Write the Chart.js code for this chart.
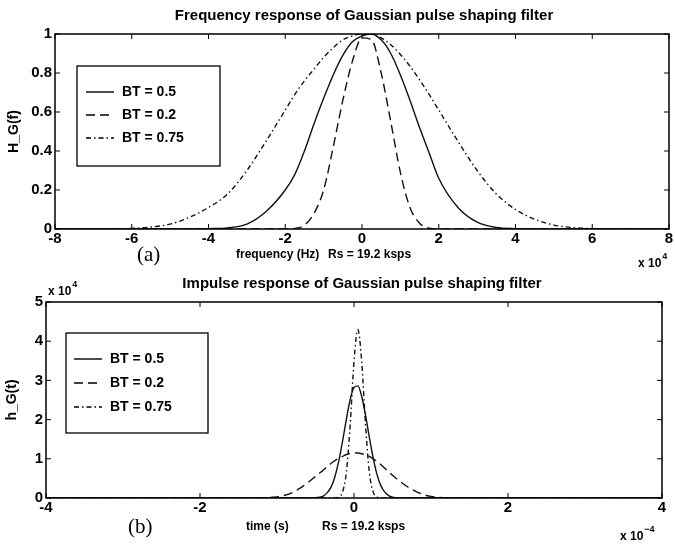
<!DOCTYPE html>
<html>
<head>
<meta charset="utf-8">
<script src="https://cdn.jsdelivr.net/npm/chart.js@4.4.1/dist/chart.umd.min.js"></script>
<style>
  html, body { margin: 0; padding: 0; background: #fff; }
  .box { position: absolute; left: 0; width: 675px; }
  #top { top: 0; height: 270px; }
  #bot { top: 270px; height: 277px; }
</style>
</head>
<body>
<div class="box" id="top"><canvas id="freq-chart"></canvas></div>
<div class="box" id="bot"><canvas id="imp-chart"></canvas></div>
<script>
// frequency response, x in units of 1e4 Hz
const freqX = [-8, -7, -6, -5.5, -5, -4.5, -4, -3.5, -3, -2.5, -2, -1.75, -1.5, -1.25, -1, -0.75, -0.5, -0.25, 0,
  0.25, 0.5, 0.75, 1, 1.25, 1.5, 1.75, 2, 2.5, 3, 3.5, 4, 4.5, 5, 5.5, 6, 7, 8];
const freqBT05 = [0, 0, 0, 0, 0, 0, 0.002, 0.006, 0.025, 0.09, 0.2, 0.28, 0.4, 0.54, 0.67, 0.79, 0.89, 0.96, 0.99,
  1.0, 0.97, 0.9, 0.79, 0.66, 0.52, 0.39, 0.26, 0.11, 0.035, 0.008, 0.002, 0, 0, 0, 0, 0, 0];
const freqBT02 = [0, 0, 0, 0, 0, 0, 0, 0, 0, 0, 0, 0.003, 0.02, 0.08, 0.2, 0.42, 0.66, 0.86, 0.98,
  0.97, 0.8, 0.55, 0.29, 0.11, 0.03, 0.004, 0, 0, 0, 0, 0, 0, 0, 0, 0, 0, 0];
const freqBT075 = [0, 0, 0.003, 0.01, 0.025, 0.06, 0.11, 0.18, 0.3, 0.45, 0.61, 0.69, 0.76, 0.82, 0.88, 0.93, 0.97, 0.99, 1.0,
  0.998, 0.98, 0.945, 0.895, 0.835, 0.765, 0.69, 0.61, 0.45, 0.3, 0.18, 0.1, 0.05, 0.02, 0.007, 0.002, 0, 0];

// impulse response, x in units of 1e-4 s, y in units of 1e4
const impX = [-4, -3, -2, -1.5, -1.2, -1, -0.9, -0.8, -0.7, -0.6, -0.5, -0.45, -0.4, -0.35, -0.3, -0.25, -0.2, -0.15, -0.1, -0.05, 0,
  0.05, 0.1, 0.15, 0.2, 0.25, 0.3, 0.35, 0.4, 0.45, 0.5, 0.6, 0.7, 0.8, 0.9, 1, 1.2, 1.5, 2, 3, 4];
const impBT05 = [0, 0, 0, 0, 0, 0, 0, 0, 0, 0.001, 0.007, 0.02, 0.05, 0.13, 0.27, 0.53, 0.92, 1.43, 2.0, 2.51, 2.82,
  2.86, 2.59, 2.11, 1.54, 1.01, 0.59, 0.31, 0.15, 0.06, 0.02, 0.002, 0, 0, 0, 0, 0, 0, 0, 0, 0];
const impBT02 = [0, 0, 0, 0, 0.005, 0.03, 0.07, 0.14, 0.25, 0.39, 0.55, 0.63, 0.71, 0.8, 0.88, 0.95, 1.01, 1.06, 1.11, 1.135, 1.15,
  1.148, 1.13, 1.1, 1.06, 1.0, 0.93, 0.85, 0.76, 0.67, 0.58, 0.42, 0.28, 0.17, 0.09, 0.04, 0.005, 0, 0, 0, 0];
const impBT075 = [0, 0, 0, 0, 0, 0, 0, 0, 0, 0, 0, 0, 0, 0, 0, 0.002, 0.02, 0.15, 0.64, 1.85, 3.48,
  4.3, 3.48, 1.85, 0.64, 0.15, 0.02, 0.002, 0, 0, 0, 0, 0, 0, 0, 0, 0, 0, 0, 0, 0];

const legendLabels = ["BT = 0.5", "BT = 0.2", "BT = 0.75"];
const dashes = [[], [9, 5], [5, 3, 1.5, 3]];

const SANS = "'Liberation Sans', Arial, sans-serif";

function pts(xs, ys) {
  return xs.map((x, i) => ({ x: x, y: ys[i] }));
}

function series(xs, ys, i) {
  return {
    label: legendLabels[i],
    data: pts(xs, ys),
    borderColor: "#111",
    borderWidth: 1.4,
    borderDash: dashes[i],
    pointRadius: 0,
    fill: false,
    cubicInterpolationMode: "monotone",
  };
}

// draws the matlab style box, inward ticks, legend and the loose texts
function matlabPlugin(cfg) {
  return {
    id: "matlab_" + cfg.name,
    afterDatasetsDraw(chart) {
      const ctx = chart.ctx;
      const a = chart.chartArea;
      const sx = chart.scales.x, sy = chart.scales.y;
      ctx.save();
      ctx.setLineDash([]);
      ctx.strokeStyle = "#000";
      ctx.lineWidth = 1.5;
      ctx.strokeRect(a.left, a.top, a.right - a.left, a.bottom - a.top);
      ctx.lineWidth = 1;
      ctx.beginPath();
      sx.ticks.forEach((t) => {
        const p = sx.getPixelForValue(t.value);
        ctx.moveTo(p, a.bottom); ctx.lineTo(p, a.bottom - 5);
        ctx.moveTo(p, a.top); ctx.lineTo(p, a.top + 5);
      });
      sy.ticks.forEach((t) => {
        const p = sy.getPixelForValue(t.value);
        ctx.moveTo(a.left, p); ctx.lineTo(a.left + 5, p);
        ctx.moveTo(a.right, p); ctx.lineTo(a.right - 5, p);
      });
      ctx.stroke();

      // legend box
      const L = cfg.legend;
      ctx.fillStyle = "#fff";
      ctx.fillRect(L.x, L.y, L.w, L.h);
      ctx.lineWidth = 1.3;
      ctx.strokeRect(L.x, L.y, L.w, L.h);
      ctx.font = "bold 14px " + SANS;
      ctx.textBaseline = "middle";
      ctx.textAlign = "left";
      ctx.fillStyle = "#000";
      chart.data.datasets.forEach((ds, i) => {
        const yy = L.y + L.rows[i];
        ctx.setLineDash(ds.borderDash);
        ctx.lineWidth = 1.4;
        ctx.beginPath();
        ctx.moveTo(L.x + L.lx0, yy);
        ctx.lineTo(L.x + L.lx1, yy);
        ctx.stroke();
        ctx.setLineDash([]);
        ctx.fillText(ds.label, L.x + L.tx, yy);
      });

      // title
      ctx.font = "bold 15px " + SANS;
      ctx.textAlign = "center";
      ctx.fillText(cfg.title, cfg.titleX, cfg.titleY);

      // y label
      ctx.save();
      ctx.translate(cfg.ylabX, (a.top + a.bottom) / 2);
      ctx.rotate(-Math.PI / 2);
      ctx.font = "bold 14px " + SANS;
      ctx.fillText(cfg.ylabel, 0, 0);
      ctx.restore();

      // x label pieces
      ctx.textAlign = "left";
      ctx.font = "bold 12px " + SANS;
      ctx.fillText(cfg.xlabel, cfg.xlabX, cfg.xlabY);
      ctx.fillText("Rs = 19.2 ksps", cfg.rsX, cfg.xlabY);
      ctx.font = "21px 'Liberation Serif', 'Times New Roman', serif";
      ctx.fillText(cfg.letter, cfg.letterX, cfg.xlabY);

      // exponent markers
      cfg.exps.forEach((e) => {
        ctx.font = "bold 12px " + SANS;
        ctx.fillText("x 10", e.x, e.y);
        const w = ctx.measureText("x 10").width;
        ctx.font = "bold 9px " + SANS;
        ctx.fillText(e.p, e.x + w + 1, e.y - 7);
      });
      ctx.restore();
    },
  };
}

function axisOpts(min, max, step, fixW, fixH) {
  const tickFont = { family: SANS, size: 15, weight: "bold" };
  return {
    x: {
      type: "linear", min: min[0], max: max[0],
      ticks: { stepSize: step[0], color: "#000", font: tickFont, padding: 1, maxRotation: 0,
        callback: (v) => String(Math.round(v * 10) / 10) },
      grid: { display: false, drawTicks: false },
      border: { display: false },
      afterFit: (s) => { s.height = fixH; },
    },
    y: {
      type: "linear", min: min[1], max: max[1],
      ticks: { stepSize: step[1], color: "#000", font: tickFont, padding: 3,
        callback: (v) => String(Math.round(v * 10) / 10) },
      grid: { display: false, drawTicks: false },
      border: { display: false },
      afterFit: (s) => { s.width = fixW; },
    },
  };
}

function createChart(id, datasets, scales, padding, plugin) {
  return new Chart(document.getElementById(id), {
    type: "line",
    data: { datasets: datasets },
    options: {
      responsive: true,
      maintainAspectRatio: false,
      animation: false,
      layout: { padding: padding },
      plugins: { legend: { display: false }, tooltip: { enabled: false } },
      scales: scales,
    },
    plugins: [plugin],
  });
}

createChart("freq-chart",
  [series(freqX, freqBT05, 0), series(freqX, freqBT02, 1), series(freqX, freqBT075, 2)],
  axisOpts([-8, 0], [8, 1], [2, 0.2], 55, 18),
  { left: 0, right: 6, top: 34, bottom: 270 - 229 - 18 },
  matlabPlugin({
    name: "freq",
    title: "Frequency response of Gaussian pulse shaping filter", titleX: 364, titleY: 16,
    ylabel: "H_G(f)", ylabX: 14,
    xlabel: "frequency (Hz)", xlabX: 236, rsX: 328, xlabY: 255,
    letter: "(a)", letterX: 137,
    exps: [{ x: 638, y: 264, p: "4" }],
    legend: { x: 77, y: 66, w: 143, h: 100, rows: [26, 49, 72], lx0: 9, lx1: 37, tx: 45 },
  }));

createChart("imp-chart",
  [series(impX, impBT05, 0), series(impX, impBT02, 1), series(impX, impBT075, 2)],
  axisOpts([-4, 0], [4, 5], [2, 1], 46, 18),
  { left: 0, right: 13, top: 32, bottom: 277 - 228 - 18 },
  matlabPlugin({
    name: "imp",
    title: "Impulse response of Gaussian pulse shaping filter", titleX: 362, titleY: 14,
    ylabel: "h_G(t)", ylabX: 12,
    xlabel: "time (s)", xlabX: 246, rsX: 322, xlabY: 257,
    letter: "(b)", letterX: 128,
    exps: [{ x: 48, y: 22, p: "4" }, { x: 620, y: 267, p: "\u22124" }],
    legend: { x: 66, y: 63, w: 142, h: 100, rows: [26, 50, 74], lx0: 8, lx1: 36, tx: 44 },
  }));
</script>
</body>
</html>
